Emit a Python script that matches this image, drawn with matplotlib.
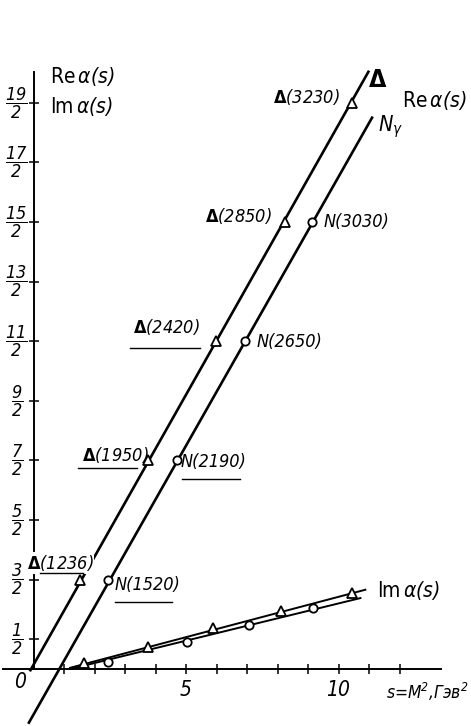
import matplotlib
matplotlib.use("Agg")
import matplotlib.pyplot as plt
from matplotlib import font_manager as fm
from matplotlib.transforms import Affine2D

# ---------------- data ----------------
delta_names = ["(1236)", "(1950)", "(2420)", "(2850)", "(3230)"]
delta_s = [1.52, 3.75, 5.98, 8.25, 10.44]
delta_re = [1.5, 3.5, 5.5, 7.5, 9.5]
delta_im_s = [1.64, 3.77, 5.87, 8.10, 10.43]
delta_im = [0.10, 0.37, 0.69, 0.97, 1.28]

n_names = ["N(1520)", "N(2190)", "N(2650)", "N(3030)"]
n_s = [2.44, 4.70, 6.93, 9.13]
n_re = [1.5, 3.5, 5.5, 7.5]
n_im_s = [2.43, 5.02, 7.05, 9.18]
n_im = [0.12, 0.45, 0.74, 1.02]

# trajectory lines (end points)
delta_line_s = [-0.10, 10.98]
delta_line_re = [-0.02, 10.02]
n_line_s = [-0.15, 11.10]
n_line_re = [-0.90, 9.25]
im_delta_line_s = [1.20, 10.88]
im_delta_line = [0.02, 1.33]
im_n_line_s = [1.20, 10.72]
im_n_line = [0.00, 1.19]

y_ticks = [0.5, 1.5, 2.5, 3.5, 4.5, 5.5, 6.5, 7.5, 8.5, 9.5]
y_tick_labels = [r"$\dfrac{1}{2}$", r"$\dfrac{3}{2}$", r"$\dfrac{5}{2}$", r"$\dfrac{7}{2}$",
                 r"$\dfrac{9}{2}$", r"$\dfrac{11}{2}$", r"$\dfrac{13}{2}$", r"$\dfrac{15}{2}$",
                 r"$\dfrac{17}{2}$", r"$\dfrac{19}{2}$"]
x_ticks = list(range(1, 13))
x_tick_labels = ["", "", "", "", "5", "", "", "", "", "10", "", ""]

# ---------------- fonts ----------------
cond = any(("DejaVu" in f.name) and ("ondensed" in f.fname) for f in fm.fontManager.ttflist)
SCALE = 1.0 if cond else 0.86
plt.rcParams["font.family"] = ["DejaVu Sans"]
if cond:
    plt.rcParams["font.stretch"] = "condensed"
plt.rcParams["mathtext.fontset"] = "custom"
plt.rcParams["mathtext.rm"] = "DejaVu Sans:italic"
plt.rcParams["mathtext.it"] = "DejaVu Sans:italic"
plt.rcParams["mathtext.bf"] = "DejaVu Sans:bold"

W, H, DPI = 471, 726, 100
fig = plt.figure(figsize=(W / DPI, H / DPI), dpi=DPI)
ax = fig.add_axes([0, 0, 1, 1])
x0, y0, sx, sy = 33.5, 669.0, 30.5, 59.6
ax.set_xlim(-x0 / sx, (W - x0) / sx)
ax.set_ylim((y0 - H) / sy, y0 / sy)
PX = Affine2D().scale(1 / DPI, -1 / DPI).translate(0, H / DPI) + fig.dpi_scale_trans

# axes through the origin
for side in ["top", "right"]:
    ax.spines[side].set_visible(False)
ax.spines["left"].set_position(("data", 0))
ax.spines["bottom"].set_position(("data", 0))
ax.spines["left"].set_bounds(0, 10.02)
ax.spines["bottom"].set_bounds(-1.0, 13.35)
for sp in ["left", "bottom"]:
    ax.spines[sp].set_linewidth(1.4)
ax.set_xticks(x_ticks)
ax.set_xticklabels([])
ax.set_yticks(y_ticks)
ax.set_yticklabels([])
ax.tick_params(direction="inout", length=7.5, width=1.1)

LW = 1.9
ax.plot(delta_line_s, delta_line_re, color="black", lw=LW, zorder=3)
ax.plot(n_line_s, n_line_re, color="black", lw=LW, zorder=3)
ax.plot(im_delta_line_s, im_delta_line, color="black", lw=1.4, zorder=3)
ax.plot(im_n_line_s, im_n_line, color="black", lw=1.4, zorder=3)

mk = dict(color="black", mfc="white", mec="black", mew=1.3, ls="none", zorder=4)
ax.plot(delta_s, delta_re, marker="^", ms=7, **mk)
ax.plot(n_s, n_re, marker="o", ms=6, **mk)
ax.plot(delta_im_s, delta_im, marker="^", ms=6.5, **mk)
ax.plot(n_im_s, n_im, marker="o", ms=6, **mk)

# tick labels
for yv, lab in zip(y_ticks, y_tick_labels):
    ax.text(-0.55, yv, lab, ha="center", va="center", fontsize=13 * SCALE)
for xv, lab in zip(x_ticks, x_tick_labels):
    if lab:
        ax.text(xv, -0.36, lab, ha="center", va="center", fontsize=15 * SCALE, style="italic")
ax.text(-0.45, -0.22, "0", ha="center", va="center", fontsize=15 * SCALE, style="italic")

FS = 13 * SCALE
def lab(x, y, s, ha="left", bg=False, size=FS):
    kw = {}
    if bg:
        kw["bbox"] = dict(fc="white", ec="none", pad=0.5)
    ax.text(x, y, s, transform=PX, ha=ha, va="center", fontsize=size, style="italic", zorder=5, **kw)

def uline(xa, xb, y):
    ax.plot([xa, xb], [y, y], transform=PX, color="black", lw=1.0, zorder=5)

D = r"$\mathbf{\Delta}$"
lab(27, 563, D + delta_names[0], bg=True)
uline(40, 83, 573)
lab(82, 455, D + delta_names[1])
uline(78, 137, 468)
lab(133, 327, D + delta_names[2])
uline(130, 200, 348)
lab(205, 216, D + delta_names[3])
lab(340, 97, D + delta_names[4], ha="right")

lab(115, 585, n_names[0])
uline(115, 172, 602)
lab(181, 462, n_names[1])
uline(182, 240, 479)
lab(257, 342, n_names[2])
lab(324, 222, n_names[3])

RE = r"Re$\,\alpha(s)$"
IM = r"Im$\,\alpha(s)$"
ax.text(368, 80, r"$\mathbf{\Delta}$", transform=PX, ha="left", va="center", fontsize=18 * SCALE)
ax.text(378, 127, r"$N_{\gamma}$", transform=PX, ha="left", va="center", fontsize=15.5 * SCALE)
ax.text(402, 100, RE, transform=PX, ha="left", va="center", fontsize=15 * SCALE)
ax.text(50, 77, RE, transform=PX, ha="left", va="center", fontsize=15 * SCALE)
ax.text(50, 106, IM, transform=PX, ha="left", va="center", fontsize=15 * SCALE)
ax.text(377, 591, IM, transform=PX, ha="left", va="center", fontsize=15 * SCALE)
ax.text(386, 692, r"s=M$^{2}$,Гэв$^{2}$", transform=PX, ha="left", va="center",
        fontsize=12.5 * SCALE, style="italic")

fig.savefig("out.png", dpi=DPI)
